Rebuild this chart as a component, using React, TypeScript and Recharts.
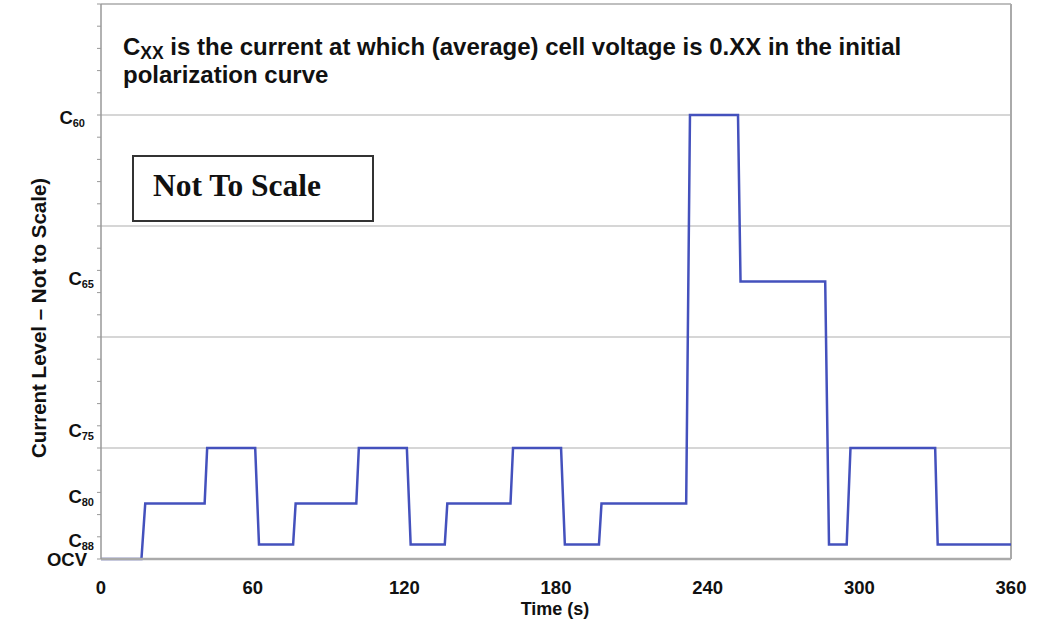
import React from 'react';
import { LineChart, Line, XAxis, YAxis, ReferenceLine } from 'recharts';

// Time (s) of each corner of the step profile
const timeS = [0, 16, 17.5, 41, 42, 61, 62.5, 76, 77, 101, 102, 121, 122.5, 136, 137, 162, 163, 182, 183.5, 197, 198, 231.5, 233, 252, 253, 286.5, 288, 295, 296.5, 330, 331, 360];
// Current level (arbitrary, not to scale)
const level = [0, 0, 2.5, 2.5, 5, 5, 0.65, 0.65, 2.5, 2.5, 5, 5, 0.65, 0.65, 2.5, 2.5, 5, 5, 0.65, 0.65, 2.5, 2.5, 20, 20, 12.5, 12.5, 0.65, 0.65, 5, 5, 0.65, 0.65];

const xTicks = [0, 60, 120, 180, 240, 300, 360];
const yMinorTicks = [0, 1, 2, 3, 4, 5, 6, 7, 8, 9, 10, 11, 12, 13, 14, 15, 16, 17, 18, 19, 20, 21, 22, 23, 24, 25];
const yGridValues = [5, 10, 15, 20];
const yLabelValues = [0, 0.87, 2.85, 5.82, 12.65, 19.9];
const yLabelMain = ['OCV', 'C', 'C', 'C', 'C', 'C'];
const yLabelSub = ['', '88', '80', '75', '65', '60'];

const data = timeS.map((t, i) => ({ t, v: level[i] }));
const yTicks = Array.from(new Set([...yMinorTicks, ...yLabelValues])).sort((a, b) => a - b);

const FONT = '"Liberation Sans", Arial, Helvetica, sans-serif';
const labelRight: Record<string, number> = { OCV: 87, '88': 94, '80': 94, '75': 94, '65': 94, '60': 85 };

const YTick = (props: any) => {
  const { x, y, payload } = props;
  const v = payload.value;
  const els: React.ReactNode[] = [];
  if (yMinorTicks.includes(v)) {
    els.push(<line key="l" x1={x - 4} x2={x} y1={y} y2={y} stroke="#999" strokeWidth={1} />);
  }
  const idx = yLabelValues.indexOf(v);
  if (idx >= 0) {
    const sub = yLabelSub[idx];
    const right = labelRight[sub || 'OCV'];
    els.push(
      <text key="t" x={right} y={y + 7} textAnchor="end" fontFamily={FONT} fontWeight="bold" fontSize={18.5} fill="#111">
        <tspan>{yLabelMain[idx]}</tspan>
        {sub ? <tspan fontSize={11} dy={3}>{sub}</tspan> : null}
      </text>
    );
  }
  return <g>{els}</g>;
};

const XTick = (props: any) => {
  const { x, y, payload } = props;
  return (
    <text x={x} y={y + 35} textAnchor="middle" fontFamily={FONT} fontWeight="bold" fontSize={18.5} fill="#111">
      {payload.value}
    </text>
  );
};

export default function App() {
  return (
    <div style={{ position: 'absolute', left: 0, top: 0, width: 1040, height: 620, background: '#fff', overflow: 'hidden' }}>
      <LineChart width={1040} height={620} data={data} margin={{ top: 4, right: 29, bottom: 0, left: 0 }}>
        <XAxis
          dataKey="t"
          type="number"
          domain={[0, 360]}
          ticks={xTicks}
          tickLine={false}
          tickSize={0}
          tickMargin={0}
          height={61}
          axisLine={{ stroke: '#aaa', strokeWidth: 2.5 }}
          tick={<XTick />}
          interval={0}
          label={(p: any) => {
            const vb = p.viewBox;
            return (
              <text x={555} y={vb.y + 56} textAnchor="middle" fontFamily={FONT} fontWeight="bold" fontSize={18} fill="#111">
                Time (s)
              </text>
            );
          }}
        />
        <YAxis
          type="number"
          domain={[0, 25]}
          ticks={yTicks}
          interval={0}
          width={101}
          tickLine={false}
          tickSize={0}
          tickMargin={0}
          axisLine={{ stroke: '#999', strokeWidth: 1.5 }}
          tick={<YTick />}
          label={() => (
            <text x={0} y={0} transform="translate(46,318) rotate(-90)" textAnchor="middle" fontFamily={FONT} fontWeight="bold" fontSize={20.5} fill="#111">
              Current Level – Not to Scale)
            </text>
          )}
        />
        {yGridValues.map((g) => (
          <ReferenceLine key={g} y={g} stroke="#c8c8c8" strokeWidth={1.5} />
        ))}
        <ReferenceLine y={25} stroke="#aaa" strokeWidth={1.5} />
        <ReferenceLine x={360} stroke="#aaa" strokeWidth={2} />
        <Line type="linear" dataKey="v" stroke="#4451bd" strokeWidth={2.5} dot={false} isAnimationActive={false} />
      </LineChart>
      <svg width={1040} height={620} style={{ position: 'absolute', left: 0, top: 0, pointerEvents: 'none' }}>
        <text x={123} y={55} fontFamily={FONT} fontWeight="bold" fontSize={24} fill="#111">
          <tspan>C</tspan>
          <tspan fontSize={17.5} dy={4}>XX</tspan>
          <tspan dy={-4}> is the current at which (average) cell voltage is 0.XX in the initial</tspan>
        </text>
        <text x={123} y={83} fontFamily={FONT} fontWeight="bold" fontSize={24} fill="#111">
          polarization curve
        </text>
        <rect x={133} y={156} width={240} height={65} fill="#fff" stroke="#333" strokeWidth={2} />
        <text x={153} y={196} fontFamily='"Liberation Serif", "Times New Roman", serif' fontWeight="bold" fontSize={31.5} fill="#111">
          Not To Scale
        </text>
      </svg>
    </div>
  );
}
